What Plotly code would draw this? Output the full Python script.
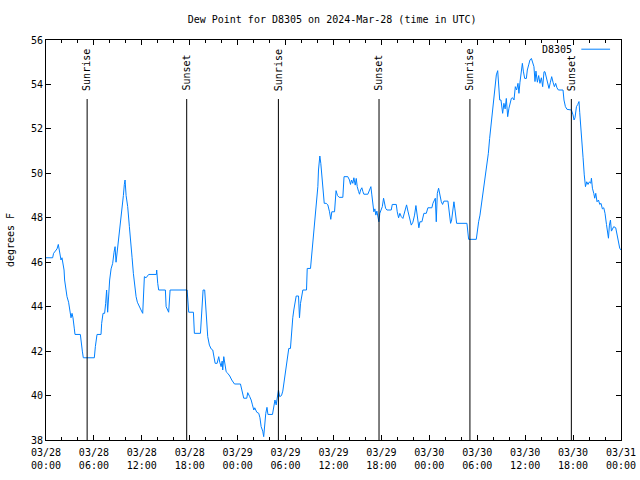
import pandas as pd
import plotly.graph_objects as go

# ---- data ----
start = "2024-03-28 00:00"
hours = [
    0, 0.83, 0.95, 1.15, 1.38, 1.54, 1.63, 1.75, 1.88, 2.0, 2.13, 2.26, 2.33, 2.46, 2.63, 2.83,
    3.01, 3.13, 3.26, 3.38, 3.55, 3.63, 4.30, 4.46, 4.55, 4.67, 6.05, 6.18, 6.39, 6.89, 6.97,
    7.14, 7.34, 7.47, 7.59, 7.72, 7.84, 7.97, 8.15, 8.35, 8.52, 8.65, 8.77, 8.93, 9.06, 9.22,
    9.40, 9.56, 9.69, 9.81, 9.90, 10.03, 10.23, 10.44, 10.60, 10.78, 10.94, 11.10, 11.28,
    11.44, 11.65, 11.90, 12.11, 12.28, 12.32, 12.53, 12.86, 13.82, 13.86, 13.99, 14.11, 14.95,
    15.04, 15.36, 15.54, 17.67, 17.71, 17.79, 17.87, 18.46, 18.58, 19.34, 19.42, 19.55, 19.67,
    19.87, 19.96, 20.09, 20.25, 20.46, 20.68, 20.88, 21.0, 21.18, 21.43, 21.63, 21.76, 21.93,
    22.06, 22.13, 22.26, 22.38, 22.56, 22.76, 23.01, 23.26, 23.60, 24.35, 24.51, 24.64, 24.76,
    25.14, 25.26, 25.51, 25.69, 25.85, 26.02, 26.14, 26.27, 26.39, 26.64, 26.79, 26.94, 27.14,
    27.26, 27.36, 27.52, 27.67, 27.79, 28.36, 28.48, 28.67, 28.82, 28.95, 29.11, 29.26, 29.49,
    29.65, 29.80, 29.95, 30.11, 30.28, 30.40, 30.61, 30.74, 30.90, 31.03, 31.20, 31.33, 31.62,
    31.74, 31.87, 32.06, 32.16, 32.62, 32.71, 33.12, 33.25, 33.41, 33.58, 33.75, 33.91, 34.04,
    34.12, 34.29, 34.41, 34.54, 34.66, 34.84, 35.09, 35.29, 35.50, 35.66, 35.79, 36.13, 36.32,
    36.50, 36.71, 37.17, 37.32, 37.79, 38.0, 38.13, 38.26, 38.42, 38.55, 38.72, 38.85, 38.97,
    39.14, 39.26, 39.39, 39.55, 39.68, 39.80, 40.30, 40.51, 40.68, 40.80, 40.93, 41.05, 41.18,
    41.30, 41.43, 41.55, 41.68, 41.80, 41.98, 42.11, 42.27, 42.40, 42.52, 42.69, 43.23, 43.36,
    43.86, 43.98, 44.15, 44.31, 44.49, 44.69, 44.90, 45.15, 45.32, 45.53, 45.74, 45.94, 46.15,
    46.32, 46.44, 46.57, 46.69, 46.82, 47.07, 47.32, 47.62, 47.82, 48.32, 48.45, 48.60, 48.75,
    48.87, 49.0, 49.16, 49.32, 49.50, 49.66, 49.82, 50.33, 50.41, 50.54, 50.66, 50.79, 50.91,
    51.08, 51.20, 51.33, 51.42, 52.71, 52.83, 52.92, 53.88, 54.0, 54.17, 54.34, 54.51, 54.71,
    54.89, 55.05, 55.21, 55.39, 55.55, 55.71, 55.89, 56.05, 56.22, 56.39, 56.56, 56.68, 56.81,
    56.97, 57.18, 57.34, 57.49, 57.64, 57.81, 57.97, 58.12, 58.27, 58.43, 58.60, 58.77, 58.93,
    59.10, 59.22, 59.35, 59.52, 59.65, 59.77, 59.94, 60.15, 60.27, 60.44, 60.60, 60.78, 60.94,
    61.10, 61.23, 61.35, 61.53, 61.69, 61.85, 62.03, 62.19, 62.36, 62.48, 62.66, 62.82, 62.98,
    63.16, 63.32, 63.49, 63.66, 63.82, 63.98, 64.16, 64.74, 64.86, 65.04, 65.24, 65.79, 65.99,
    66.12, 66.24, 66.42, 66.58, 66.74, 66.83, 66.95, 67.12, 67.25, 67.40, 67.55, 67.71, 67.87,
    68.05, 68.21, 68.30, 68.42, 68.59, 68.71, 68.84, 69.0, 69.18, 69.34, 69.50, 69.67, 69.84,
    70.0, 70.18, 70.30, 70.43, 70.55, 70.68, 70.80, 70.93, 71.09, 71.34, 71.55, 71.72, 71.84,
    72.0,
]
dew_point = [
    46.2, 46.2, 46.4, 46.5, 46.6, 46.8, 46.6, 46.2, 46.1, 46.2, 45.95, 45.65, 45.2, 44.75, 44.45, 44.2,
    43.7, 43.5, 43.7, 43.5, 43.0, 42.75, 42.75, 42.4, 42.0, 41.7, 41.7, 42.2, 42.75, 42.75, 43.25,
    43.7, 43.7, 44.15, 44.75, 43.75, 44.5, 45.2, 45.7, 45.95, 46.45, 46.7, 46.0, 46.5, 46.9, 47.3,
    47.9, 48.5, 49.0, 49.5, 49.7, 49.0, 48.5, 47.6, 46.7, 46.2, 45.5, 44.9, 44.45,
    44.2, 44.0, 43.85, 43.7, 44.9, 45.35, 45.3, 45.45, 45.45, 45.65, 45.05, 44.75, 44.75,
    44.0, 43.75, 44.75, 44.75, 44.45, 44.0, 43.75, 43.75, 42.8, 42.8, 43.4, 44.15, 44.75,
    44.75, 44.3, 43.4, 42.65, 42.27, 42.1, 42.05, 41.7, 41.45, 41.45, 41.75, 41.5, 41.3,
    41.55, 41.15, 41.75, 41.4, 41.07, 41.0, 40.88, 40.7, 40.52, 40.52, 40.3, 40.17, 39.88,
    39.88, 40.13, 39.95, 39.8, 39.58, 39.35, 39.45, 39.3, 39.25, 39.2, 39.0, 38.6, 38.4,
    38.15, 38.78, 39.2, 39.47, 39.15, 39.15, 39.4, 39.8, 39.58, 39.9, 40.25, 39.95, 40.0,
    40.2, 40.55, 41.0, 41.4, 41.75, 42.12, 42.12, 42.85, 43.5, 43.85, 44.37, 44.48, 44.48,
    43.5, 44.15, 44.6, 44.75, 44.75, 45.72, 45.72, 46.25, 46.9, 47.6, 48.05, 48.72, 49.4,
    50.15, 50.78, 50.45, 49.85, 49.2, 48.65, 48.65, 48.58, 48.27, 47.93, 48.27, 48.27, 49.22,
    49.0, 48.92, 48.92, 49.85, 49.85, 49.7, 49.5, 49.7, 49.55, 49.8, 49.47, 49.77, 49.4,
    49.18, 49.06, 49.25, 49.35, 49.18, 49.06, 49.06, 49.25, 49.4, 49.03, 48.5, 48.27, 48.4,
    48.12, 48.3, 47.97, 47.82, 48.2, 48.35, 48.5, 48.88, 48.7, 48.43, 48.35, 48.35, 48.6,
    48.6, 48.27, 48.0, 48.2, 48.05, 47.97, 48.2, 48.58, 48.3, 47.9, 47.67, 47.8, 48.12,
    48.55, 48.2, 47.82, 47.55, 47.82, 47.82, 48.2, 48.2, 48.45, 48.45, 48.65, 48.75, 48.88,
    47.82, 49.1, 49.33, 49.0, 48.72, 48.6, 48.75, 48.75, 48.43, 48.05, 47.75, 47.9, 48.2,
    48.72, 48.4, 48.1, 47.75, 47.75, 47.38, 47.03, 47.03, 47.45, 47.82, 48.12, 48.58, 49.03,
    49.4, 49.85, 50.3, 50.9, 51.57, 52.17, 52.63, 53.23, 53.9, 54.43, 54.62, 53.75, 53.3,
    53.3, 52.7, 53.15, 52.9, 53.37, 52.55, 52.93, 53.1, 53.37, 53.4, 53.3, 53.9, 53.75,
    54.05, 53.6, 54.1, 54.65, 54.95, 54.6, 54.27, 54.27, 54.65, 54.88, 55.1, 55.17, 54.95,
    54.8, 54.13, 54.6, 54.1, 54.4, 54.05, 54.3, 53.9, 54.57, 54.57, 54.3, 54.05, 53.82,
    54.1, 54.35, 54.1, 53.9, 54.05, 53.85, 53.75, 53.75, 53.3, 53.0, 52.88, 52.85, 52.63,
    52.4, 52.5, 53.0, 53.1, 53.23, 52.75, 52.03, 51.45, 50.7, 49.93, 49.4, 49.62, 49.5,
    49.62, 49.55, 49.78, 49.33, 49.1, 48.88, 49.1, 48.72, 48.8, 48.6, 48.65, 48.4, 48.45,
    48.2, 47.7, 47.25, 47.08, 47.67, 47.9, 47.4, 47.53, 47.6, 47.55, 47.15, 46.85, 46.63,
    46.55,
]
sun_times = ["2024-03-28 05:09", "2024-03-28 17:37", "2024-03-29 05:06",
             "2024-03-29 17:42", "2024-03-30 05:05", "2024-03-30 17:47"]
sun_labels = ["Sunrise", "Sunset", "Sunrise", "Sunset", "Sunrise", "Sunset"]
station = "D8305"
title_text = "Dew Point for D8305 on 2024-Mar-28 (time in UTC)"
y_label = "degrees F"

times = pd.Timestamp(start) + pd.to_timedelta(hours, unit="h")

FONT = "DejaVu Sans Mono"
fig = go.Figure()
fig.add_trace(go.Scatter(x=times, y=dew_point, mode="lines", name=station,
                         line=dict(color="#0080ff", width=1), showlegend=False))

for t, lab in zip(sun_times, sun_labels):
    fig.add_shape(type="line", xref="x", yref="paper", x0=t, x1=t, y0=0, y1=0.8525,
                  line=dict(color="black", width=1))
    fig.add_annotation(x=t, y=0.868, xref="x", yref="paper", text=lab, textangle=-90,
                       showarrow=False, xanchor="center", yanchor="bottom",
                       font=dict(family=FONT, size=10, color="black"))

# gnuplot-style key: text then line sample
fig.add_annotation(x=0.919, y=0.977, xref="paper", yref="paper", text=station,
                   showarrow=False, xanchor="right", yanchor="middle",
                   font=dict(family=FONT, size=10, color="black"))
fig.add_shape(type="line", xref="paper", yref="paper", x0=0.931, x1=0.981, y0=0.977, y1=0.977,
              line=dict(color="#0080ff", width=1))

fig.update_layout(
    width=640, height=480,
    margin=dict(l=46, r=19, t=40, b=40, autoexpand=False),
    paper_bgcolor="white", plot_bgcolor="white",
    font=dict(family=FONT, size=10, color="black"),
    title=dict(text=title_text, x=0.519, xref="container", xanchor="center",
               y=1 - 19 / 480, yref="container", yanchor="middle",
               font=dict(family=FONT, size=10, color="black")),
)
fig.update_xaxes(
    range=["2024-03-28 00:00", "2024-03-31 00:00"], automargin=False,
    tick0="2024-03-28 00:00", dtick=6 * 3600 * 1000, tickformat="%m/%d<br>%H:%M",
    ticks="inside", ticklen=5, tickcolor="black", tickwidth=1, ticklabelstandoff=3,
    minor=dict(dtick=2 * 3600 * 1000, ticks="inside", ticklen=3, tickcolor="black"),
    showline=True, linecolor="black", linewidth=1, mirror="allticks",
    showgrid=False, zeroline=False, tickfont=dict(family=FONT, size=10, color="black"),
)
fig.update_yaxes(
    range=[38, 56], tick0=38, dtick=2, automargin=False,
    ticks="inside", ticklen=5, tickcolor="black", tickwidth=1,
    showline=True, linecolor="black", linewidth=1, mirror="allticks",
    showgrid=False, zeroline=False, tickfont=dict(family=FONT, size=10, color="black"),
    title=dict(text=y_label, font=dict(family=FONT, size=10, color="black"), standoff=14),
)

fig.write_html("out.html")
